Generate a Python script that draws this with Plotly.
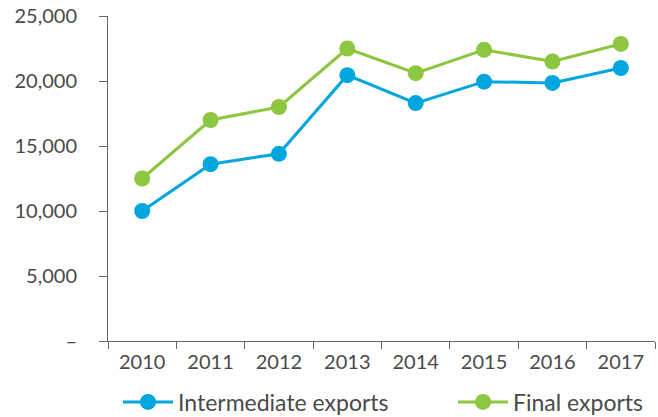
import plotly.graph_objects as go

years = ["2010", "2011", "2012", "2013", "2014", "2015", "2016", "2017"]
intermediate = [10000, 13600, 14400, 20450, 18300, 19950, 19850, 21000]
final = [12500, 17000, 18000, 22500, 20600, 22400, 21500, 22850]
y_ticks = [0, 5000, 10000, 15000, 20000, 25000]
y_labels = ["–", "5,000", "10,000", "15,000", "20,000", "25,000"]

BLUE = "#00A6DD"
GREEN = "#8DC63F"
TEXT = "#4a4a4a"
AXIS = "#666666"
FONT = "Lato"

fig = go.Figure()
fig.add_trace(go.Scatter(
    x=years, y=intermediate, name="Intermediate exports",
    mode="lines+markers",
    line=dict(color=BLUE, width=3),
    marker=dict(color=BLUE, size=16),
    legend="legend",
))
fig.add_trace(go.Scatter(
    x=years, y=final, name="Final exports",
    mode="lines+markers",
    line=dict(color=GREEN, width=3),
    marker=dict(color=GREEN, size=16),
    legend="legend2",
))

legend_common = dict(
    orientation="h",
    xref="container", yref="container",
    y=1 - 402 / 417,
    xanchor="left", yanchor="middle",
    font=dict(size=23, color=TEXT),
    itemwidth=50,
    bgcolor="rgba(0,0,0,0)",
)

fig.update_layout(
    width=658, height=417,
    margin=dict(l=108, r=3, t=16, b=76, autoexpand=False),
    paper_bgcolor="white", plot_bgcolor="white",
    font=dict(family=FONT, color=TEXT, size=17),
    showlegend=True,
    legend=dict(legend_common, x=118 / 658),
    legend2=dict(legend_common, x=453 / 658),
    xaxis=dict(
        type="category",
        range=[-0.5, 7.5],
        showgrid=False, zeroline=False,
        showline=True, linecolor=AXIS, linewidth=1,
        ticks="outside", ticklen=7, tickcolor=AXIS, tickwidth=1,
        tickson="boundaries",
        ticklabelstandoff=3,
        tickfont=dict(size=20, color=TEXT),
    ),
    yaxis=dict(
        range=[0, 25000],
        tickvals=y_ticks, ticktext=y_labels,
        showgrid=False, zeroline=False,
        showline=True, linecolor=AXIS, linewidth=1,
        ticks="outside", ticklen=8, tickcolor=AXIS, tickwidth=1,
        ticklabelstandoff=18,
        tickfont=dict(size=20, color=TEXT),
    ),
)

fig.write_html("out.html", config={"displayModeBar": False},
               post_script="document.body.style.margin='0';")
